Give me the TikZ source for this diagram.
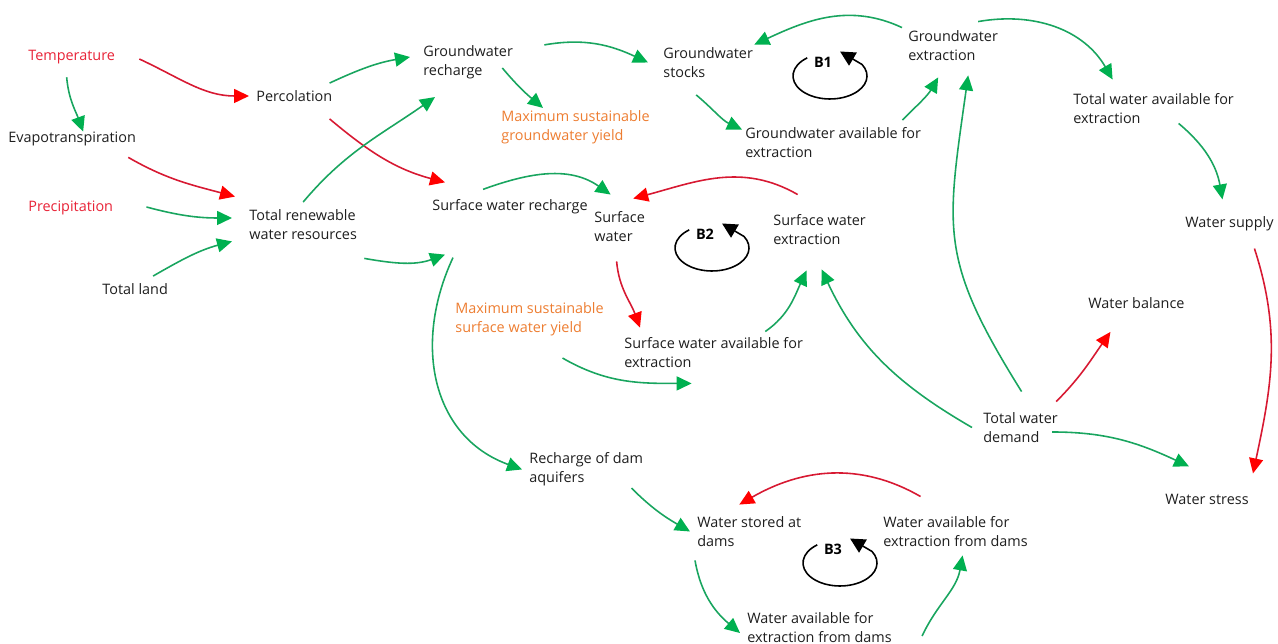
\documentclass[tikz,border=0pt]{standalone}
\usepackage{fontspec}
\setmainfont{Open Sans}
\usepackage{tikz}
\usetikzlibrary{
    arrows.meta
}
\definecolor{posgreen}{RGB}{25,165,95}
\definecolor{posgreenhead}{RGB}{0,176,80}
\definecolor{negred}{RGB}{215,25,50}
\definecolor{driverred}{RGB}{232,35,55}
\definecolor{yieldorange}{RGB}{237,125,49}
\definecolor{vartext}{RGB}{30,30,30}
\tikzstyle{varnode} = [
    anchor=west,
    align=left,
    inner sep=4pt,
    text=vartext,
    font=\fontsize{8.2}{10.8}\selectfont
]
\tikzstyle{driver} = [
    varnode,
    text=driverred
]
\tikzstyle{limit} = [
    varnode,
    text=yieldorange
]
\tikzstyle{posarrow} = [
    -{Triangle[length=0.3cm,width=0.28cm,color=posgreenhead]},
    line width=0.9pt,
    draw=posgreen
]
\tikzstyle{negarrow} = [
    -{Triangle[length=0.3cm,width=0.28cm,color=red]},
    line width=0.9pt,
    draw=negred
]
\tikzstyle{balloop} = [
    -{Triangle[length=0.3cm,width=0.3cm]},
    line width=0.9pt,
    draw=black
]
\tikzstyle{looplabel} = [
    inner sep=1pt,
    font=\fontsize{8.2}{10.8}\selectfont\bfseries
]

\begin{document}
\begin{tikzpicture}[x=0.02cm, y=0.02cm]
        \useasboundingbox (0,0) rectangle (1278,644);

        % Climate drivers
        \node[driver] (temp) at (21,587) {Temperature};
        \node[varnode] (evap) at (1,505) {Evapotranspiration};
        \node[driver] (precip) at (21,436) {Precipitation};
        \node[varnode] (land) at (95,355) {Total land};
        \node[varnode] (perc) at (249,548) {Percolation};
        \node[varnode] (renew) at (242,419.5) {Total renewable\\water resources};

        % Groundwater side
        \node[varnode] (gwrech) at (416,581.5) {Groundwater\\recharge};
        \node[limit] (maxgw) at (494,516.5) {Maximum sustainable\\groundwater yield};
        \node[varnode] (gwstock) at (656,581.5) {Groundwater\\stocks};
        \node[varnode] (gwavail) at (738,501.5) {Groundwater available for\\extraction};
        \node[varnode] (gwext) at (901,598.5) {Groundwater\\extraction};
        \node[varnode] (totavail) at (1066,535.5) {Total water available for\\extraction};
        \node[varnode] (supply) at (1178,420) {Water supply};

        % Surface water side
        \node[varnode] (swrech) at (425,437) {Surface water recharge};
        \node[varnode] (sw) at (587,417.5) {Surface\\water};
        \node[varnode] (swext) at (766,414) {Surface water\\extraction};
        \node[limit] (maxsw) at (448,324.5) {Maximum sustainable\\surface water yield};
        \node[varnode] (swavail) at (617,291.5) {Surface water available for\\extraction};

        % Demand side
        \node[varnode] (balance) at (1081,341) {Water balance};
        \node[varnode] (demand) at (976,216.5) {Total water\\demand};
        \node[varnode] (stress) at (1158,145) {Water stress};

        % Dams
        \node[varnode] (damrech) at (522,174.5) {Recharge of dam\\aquifers};
        \node[varnode] (stored) at (690,112.5) {Water stored at\\dams};
        \node[varnode] (damavail) at (876,112.5) {Water available for\\extraction from dams};
        \node[varnode] (damavailb) at (740,16.5) {Water available for\\extraction from dams};

        % Links from the climate drivers
        \draw[negarrow] ([shift={(17,-2)}]temp.east) to[out=-25, in=180] (perc.west);
        \draw[posarrow] ([shift={(-5,-6)}]temp.south) to[out=-85, in=110] ([shift={(11,-7)}]evap.north);
        \draw[negarrow] ([shift={(-15,-4)}]evap.south east) to[out=-30, in=165] ([shift={(-7,5.5)}]renew.north west);
        \draw[posarrow] ([shift={(26,1)}]precip.east) to[out=-15, in=180] ([shift={(-10,6.5)}]renew.west);
        \draw[posarrow] ([shift={(18,0)}]land.north) to[out=30, in=195] ([shift={(-10,5.5)}]renew.south west);
        \draw[posarrow] ([shift={(-10,0)}]perc.north east) to[out=25, in=190] ([shift={(-6,5.5)}]gwrech.west);
        \draw[negarrow] ([shift={(-10,-10)}]perc.south east) to[out=-40, in=165] ([shift={(20,10)}]swrech.north west);
        \draw[posarrow] (renew.north) to[out=50, in=215] ([shift={(19,-10.5)}]gwrech.south west);
        \draw[posarrow] ([shift={(0,-11.5)}]renew.south east) to[out=-10, in=200] ([shift={(20,-33)}]swrech.south west);

        % Groundwater loop B1
        \draw[posarrow] ([shift={(24,-6.5)}]gwrech.north east) to[out=10, in=155] ([shift={(-8,0)}]gwstock.west);
        \draw[posarrow] ([shift={(-18,-5.5)}]gwrech.east) to[out=-50, in=140] ([shift={(49,-4.5)}]maxgw.north west);
        \draw[posarrow] ([shift={(-12,-10)}]gwstock.south) to[out=-40, in=155] ([shift={(4,-9.5)}]gwavail.north west);
        \draw[posarrow] ([shift={(1,-4.5)}]gwext.north west) to[out=155, in=25] ([shift={(-6,-4.5)}]gwstock.north east);
        \draw[posarrow] ([shift={(-26,0)}]gwavail.north east) to[out=45, in=-120] ([shift={(-15,-9.5)}]gwext.south);
        \draw[posarrow] ([shift={(25,1.5)}]gwext.north) to[out=10, in=120] ([shift={(-41,6.5)}]totavail.north);
        \draw[posarrow] ([shift={(25,7.5)}]totavail.south) to[out=-40, in=100] ([shift={(-7,10)}]supply.north);
        \draw[negarrow] ([shift={(25,-10)}]supply.south) to[out=-72, in=78] ([shift={(-3,13)}]stress.north east);

        % Surface water loop B2
        \draw[posarrow] ([shift={(-27,3)}]swrech.north) to[out=20, in=145] ([shift={(-9,9.5)}]sw.north);
        \draw[negarrow] ([shift={(-22,13)}]swext.north) to[out=150, in=15] ([shift={(-19,5.5)}]sw.north east);
        \draw[negarrow] ([shift={(-3,-12.5)}]sw.south) to[out=-85, in=110] ([shift={(23,2.5)}]swavail.north west);
        \draw[posarrow] ([shift={(-45,-1.5)}]swavail.north east) to[out=35, in=-115] ([shift={(-13,-18)}]swext.south);
        \draw[posarrow] ([shift={(33,-14.5)}]maxsw.south) to[out=-30, in=180] ([shift={(-22,-8.5)}]swavail.south);

        % Dam loop B3
        \draw[posarrow] ([shift={(28,-36)}]swrech.south west) to[out=-115, in=160, looseness=1.1] (damrech.west);
        \draw[posarrow] ([shift={(-19,5.5)}]damrech.south east) to[out=-45, in=150] (stored.west);
        \draw[negarrow] ([shift={(-35,12.5)}]damavail.north) to[out=150, in=30] ([shift={(-10,4.5)}]stored.north);
        \draw[posarrow] ([shift={(5,-6.5)}]stored.south west) to[out=-80, in=140] ([shift={(0,-5.5)}]damavailb.west);
        \draw[posarrow] ([shift={(23,-8.5)}]damavailb.east) to[out=65, in=-100] ([shift={(7,-1.5)}]damavail.south);

        % Links from total water demand
        \draw[posarrow] ([shift={(1,13.5)}]demand.north) to[out=122, in=-98, looseness=1.25] ([shift={(15,-7.5)}]gwext.south);
        \draw[posarrow] ([shift={(-4,0)}]demand.west) to[out=150, in=-65] ([shift={(2,-17)}]swext.south);
        \draw[negarrow] ([shift={(-9,3.5)}]demand.north east) to[out=45, in=-125] ([shift={(-26,-16)}]balance.south);
        \draw[posarrow] ([shift={(-13,-4.5)}]demand.east) to[out=0, in=155] ([shift={(-18,20)}]stress.north);

        % Balancing loop markers
        \foreach \lbl/\cx/\cy in {B1/830/568, B2/712/396, B3/840/81}{
            \node[looplabel] (\lbl) at (\cx-7,\cy+14) {\lbl};
            \draw[balloop] (\cx,\cy) ++(128:37 and 23) arc[start angle=128, end angle=390, x radius=37, y radius=23] -- ++(-22,13);
        }
    \end{tikzpicture}
\end{document}
